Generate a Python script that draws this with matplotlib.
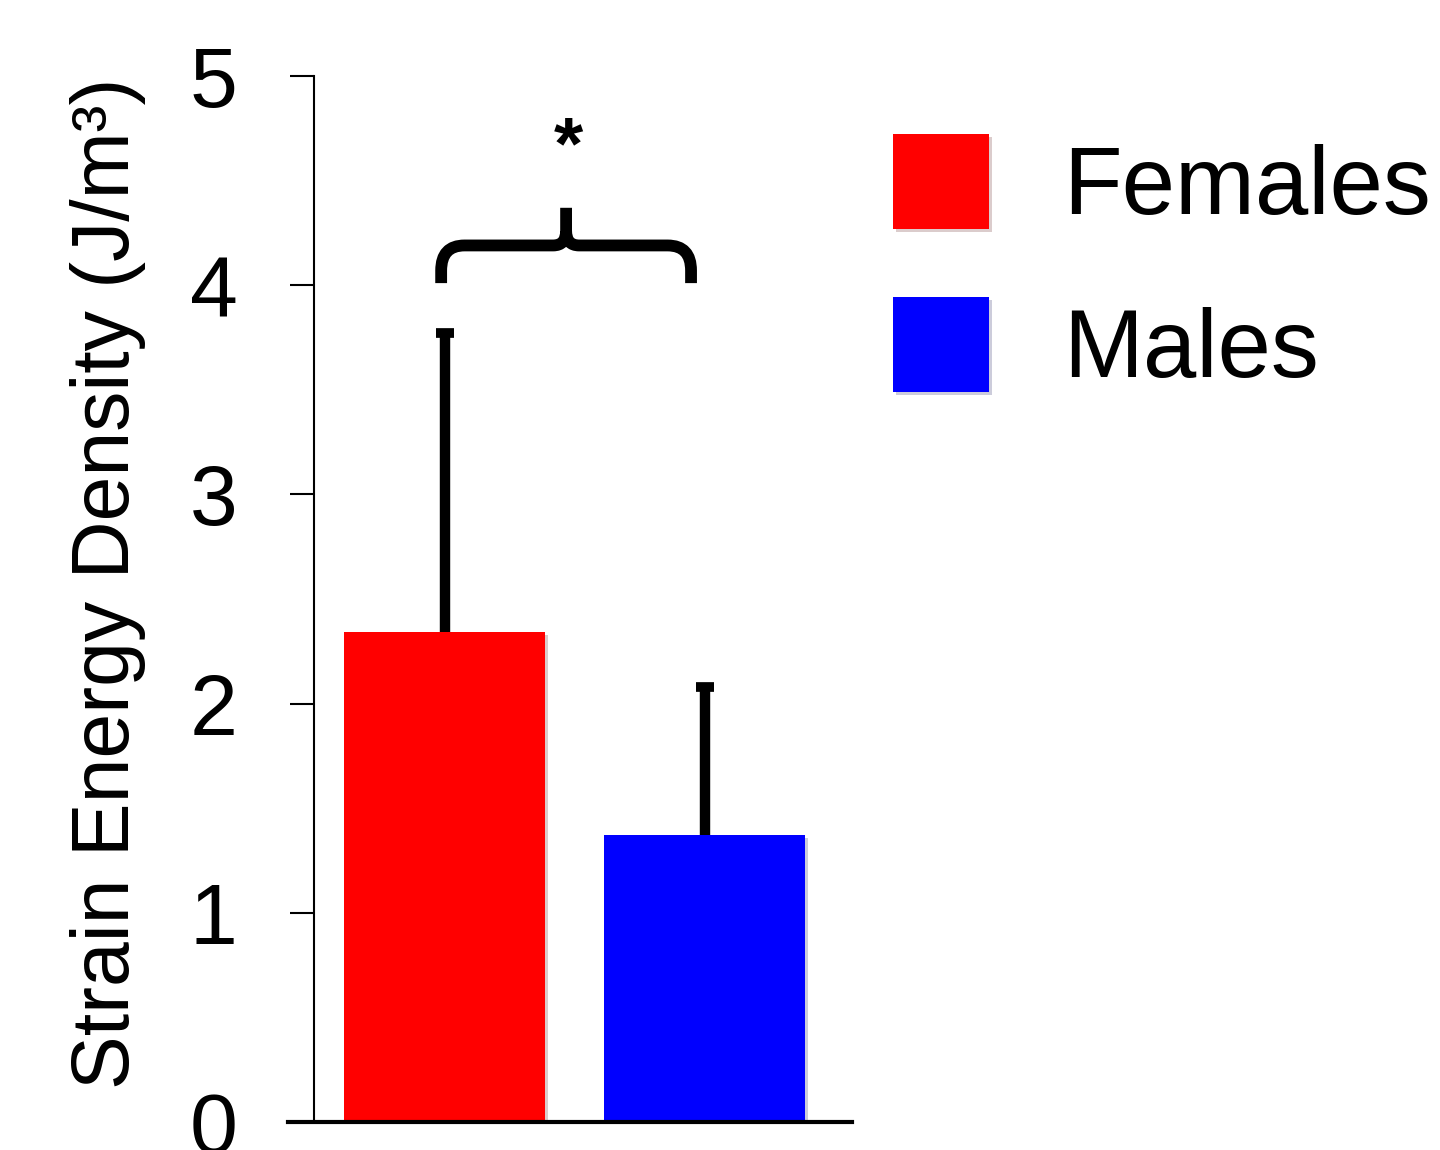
import numpy as np
import matplotlib
matplotlib.use('Agg')
import matplotlib.pyplot as plt
from matplotlib.path import Path
from matplotlib.patches import PathPatch
import matplotlib.patheffects as pe

plt.rcParams['font.family'] = ['Liberation Sans', 'DejaVu Sans']

# data
groups = ['Females', 'Males']
means = [2.34, 1.37]
sd = [1.43, 0.71]
colors = ['#ff0000', '#0000ff']
y_ticks = [0, 1, 2, 3, 4, 5]
y_label = 'Strain Energy Density (J/m\u00b3)'
sig_mark = '*'

fig = plt.figure(figsize=(14.4, 11.5), dpi=100)
ax = fig.add_axes([288/1440, 28/1150, 564/1440, 1046/1150])

x = np.arange(len(groups))
tops = np.array(means) + np.array(sd)
# upper error bars only, drawn behind the bars
ax.vlines(x, means, tops, color='black', linewidth=7.5, zorder=1)
ax.plot(x, tops, linestyle='none', marker='_', markersize=13,
        markeredgewidth=7, color='black', zorder=1)
bars = ax.bar(x, means, width=0.773, color=colors, zorder=2,
              path_effects=[pe.SimplePatchShadow(offset=(2, -2), alpha=0.2),
                            pe.Normal()])

ax.set_xlim(-0.602, 1.567)
ax.set_ylim(0, 5)
ax.set_yticks(y_ticks)
ax.set_xticks([])
ax.spines['top'].set_visible(False)
ax.spines['right'].set_visible(False)
ax.spines['left'].set_position(('data', -0.502))
ax.spines['left'].set_linewidth(1.5)
ax.spines['bottom'].set_linewidth(3)
ax.tick_params(axis='y', direction='out', length=17, width=1.5,
               labelsize=62, pad=38)

ax.set_ylabel(y_label, fontsize=58, va='center')
ax.yaxis.set_label_coords(-0.319, 0.515)

# significance brace between the two bars
x0, x1 = -0.013, 0.948
xc = (x0 + x1) / 2
yb, yh, yt = 4.01, 4.19, 4.37
rx, ry = 0.09, 0.12
rx2, ry2 = 0.05, 0.07
verts = [(x0, yb), (x0, yh - ry), (x0, yh), (x0 + rx, yh),
         (xc - rx2, yh), (xc, yh), (xc, yh + ry2), (xc, yt),
         (xc, yh + ry2), (xc, yh), (xc + rx2, yh),
         (x1 - rx, yh), (x1, yh), (x1, yh - ry), (x1, yb)]
codes = [Path.MOVETO, Path.LINETO, Path.CURVE3, Path.CURVE3,
         Path.LINETO, Path.CURVE3, Path.CURVE3, Path.LINETO,
         Path.MOVETO, Path.CURVE3, Path.CURVE3,
         Path.LINETO, Path.CURVE3, Path.CURVE3, Path.LINETO]
brace = PathPatch(Path(verts, codes), facecolor='none', edgecolor='black',
                  linewidth=8.5, capstyle='butt', joinstyle='round',
                  clip_on=False)
ax.add_patch(brace)
ax.text(xc + 0.01, 4.65, sig_mark, fontsize=54, fontweight='bold',
        ha='center', va='center', clip_on=False)

ax.legend(bars, groups, loc='upper left',
          bbox_to_anchor=(893/1440, 1 - 134/1150),
          bbox_transform=fig.transFigure, frameon=False, fontsize=69,
          borderpad=0, borderaxespad=0, handlelength=1.0,
          handleheight=1.146, handletextpad=0.78, labelspacing=0.66)

fig.savefig('out.png', dpi=100)
